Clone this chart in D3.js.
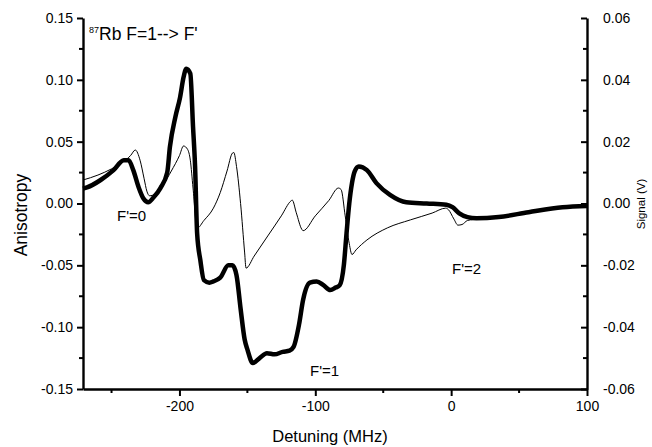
<!DOCTYPE html>
<html>
<head>
<meta charset="utf-8">
<script src="https://cdn.jsdelivr.net/npm/d3@7"></script>
<style>
  body { margin: 0; background: #fff; }
  text { font-family: "Liberation Sans", Arial, sans-serif; fill: #000; }
</style>
</head>
<body>
<div id="chart-area"></div>
<script>
// anisotropy (thick line, left axis): detuning in MHz, value
var anisoDetuning = [-271, -268, -258, -248.5, -241, -237.5, -234, -230, -226.5, -223, -219, -214, -209, -207, -203, -199.5, -197, -195, -192, -190, -188.5, -187, -184.6, -182, -178, -175, -170, -164, -161, -158, -155, -152, -150, -146, -141, -135.6, -130, -124, -119, -116, -112, -109, -104, -99, -94, -89, -85, -82, -79, -77, -75, -73, -71, -68, -62, -55, -45, -33, -18, -3.5, 1, 6, 12, 18.6, 35, 57, 82, 100]
var anisoValues = [0.012, 0.013, 0.019, 0.027, 0.035, 0.035, 0.027, 0.013, 0.004, 0.001, 0.005, 0.0125, 0.025, 0.046, 0.070, 0.086, 0.102, 0.109, 0.105, 0.062, 0.03, -0.024, -0.046, -0.062, -0.064, -0.063, -0.060, -0.050, -0.050, -0.058, -0.085, -0.110, -0.118, -0.129, -0.125, -0.121, -0.122, -0.120, -0.119, -0.116, -0.098, -0.078, -0.064, -0.063, -0.066, -0.070, -0.068, -0.066, -0.05, -0.024, 0.0, 0.0165, 0.026, 0.030, 0.027, 0.0165, 0.007, 0.001, 0.0, -0.001, -0.003, -0.008, -0.011, -0.012, -0.011, -0.007, -0.003, -0.002]

// signal (thin line, right axis)
var signalDetuning = [-271, -260, -250, -243, -236, -232.5, -229, -226, -224, -222, -218, -212, -206, -200, -197, -194, -192, -190, -187, -182, -175, -170, -165, -161, -160, -158, -155, -152, -151, -145, -135, -125, -118, -117, -114, -110, -109, -100, -90, -83, -81, -78, -75, -73, -70, -62, -47, -30, -14, -4, -2, 2, 5, 8, 12, 20, 35, 57, 82, 100]
var signalValues = [0.0076, 0.0092, 0.0112, 0.013, 0.0155, 0.0173, 0.014, 0.008, 0.004, 0.0025, 0.003, 0.006, 0.0105, 0.0155, 0.0186, 0.0175, 0.014, 0.005, -0.008, -0.0055, -0.0015, 0.0035, 0.0105, 0.0163, 0.0165, 0.012, 0.0, -0.016, -0.0209, -0.017, -0.0105, -0.004, 0.0008, 0.0011, -0.003, -0.0083, -0.0088, -0.004, 0.001, 0.005, 0.0045, -0.004, -0.013, -0.0165, -0.015, -0.0118, -0.0079, -0.0053, -0.0031, -0.0015, -0.002, -0.005, -0.007, -0.0068, -0.0055, -0.005, -0.0044, -0.0028, -0.0012, -0.0002]

var xTicks = [-200, -100, 0, 100]
var xMinor = [-250, -150, -50, 50]
var leftTicks = [-0.15, -0.10, -0.05, 0.00, 0.05, 0.10, 0.15]
var leftMinor = [-0.125, -0.075, -0.025, 0.025, 0.075, 0.125]
var rightTicks = [-0.06, -0.04, -0.02, 0.00, 0.02, 0.04, 0.06]
var rightMinor = [-0.05, -0.03, -0.01, 0.01, 0.03, 0.05]

var width = 652, height = 447
var margin = { left: 83, right: 65, top: 18, bottom: 58 }

var svg = d3.select("#chart-area")
  .append("svg")
  .attr("width", width)
  .attr("height", height)

var x = d3.scaleLinear()
  .domain([-271, 100])
  .range([margin.left, width - margin.right])

var yLeft = d3.scaleLinear()
  .domain([-0.15, 0.15])
  .range([height - margin.bottom, margin.top])

var yRight = d3.scaleLinear()
  .domain([-0.06, 0.06])
  .range([height - margin.bottom, margin.top])

var anisoData = anisoDetuning.map(function(d, i) { return [d, anisoValues[i]] })
var signalData = signalDetuning.map(function(d, i) { return [d, signalValues[i]] })

// plain hyphen instead of unicode minus
function fmt(spec) {
  return function(d) { return d3.format(spec)(d).replace("\u2212", "-") }
}

// thin signal line
svg.append("path")
  .datum(signalData)
  .attr("fill", "none")
  .attr("stroke", "#000")
  .attr("stroke-width", 1)
  .attr("d", d3.line()
    .curve(d3.curveMonotoneX)
    .x(function(d) { return x(d[0]) })
    .y(function(d) { return yRight(d[1]) }))

// thick anisotropy line
svg.append("path")
  .datum(anisoData)
  .attr("fill", "none")
  .attr("stroke", "#000")
  .attr("stroke-width", 4.5)
  .attr("stroke-linejoin", "round")
  .attr("d", d3.line()
    .curve(d3.curveMonotoneX)
    .x(function(d) { return x(d[0]) })
    .y(function(d) { return yLeft(d[1]) }))

// axes
function styleAxis(g) {
  g.attr("font-size", 14).attr("font-family", "Liberation Sans, Arial, sans-serif")
  g.select(".domain").attr("stroke", "#000").attr("stroke-width", 2.4)
  g.selectAll(".tick line").attr("stroke", "#000").attr("stroke-width", 2)
}

var xAxis = svg.append("g")
  .attr("transform", "translate(0," + (height - margin.bottom) + ")")
  .call(d3.axisBottom(x).tickValues(xTicks).tickSize(7).tickSizeOuter(0).tickPadding(5).tickFormat(fmt("d")))
  .call(styleAxis)
xAxis.selectAll(".minor")
  .data(xMinor).enter()
  .append("line")
  .attr("x1", function(d) { return x(d) }).attr("x2", function(d) { return x(d) })
  .attr("y1", 0).attr("y2", 4)
  .attr("stroke", "#000").attr("stroke-width", 2)

var leftAxis = svg.append("g")
  .attr("transform", "translate(" + margin.left + ",0)")
  .call(d3.axisLeft(yLeft).tickValues(leftTicks).tickSize(6).tickSizeOuter(0).tickPadding(4).tickFormat(fmt(".2f")))
  .call(styleAxis)
leftAxis.selectAll(".minor")
  .data(leftMinor).enter()
  .append("line")
  .attr("y1", function(d) { return yLeft(d) }).attr("y2", function(d) { return yLeft(d) })
  .attr("x1", 0).attr("x2", -4)
  .attr("stroke", "#000").attr("stroke-width", 2)

var rightAxis = svg.append("g")
  .attr("transform", "translate(" + (width - margin.right) + ",0)")
  .call(d3.axisRight(yRight).tickValues(rightTicks).tickSize(-6).tickSizeOuter(0).tickPadding(16).tickFormat(fmt(".2f")))
  .call(styleAxis)
rightAxis.selectAll(".minor")
  .data(rightMinor).enter()
  .append("line")
  .attr("y1", function(d) { return yRight(d) }).attr("y2", function(d) { return yRight(d) })
  .attr("x1", 0).attr("x2", -4)
  .attr("stroke", "#000").attr("stroke-width", 2)

// axis titles
svg.append("text")
  .attr("x", 330)
  .attr("y", 442)
  .attr("text-anchor", "middle")
  .style("font-size", "16.5px")
  .text("Detuning (MHz)")

svg.append("text")
  .attr("transform", "translate(27,215) rotate(-90)")
  .attr("text-anchor", "middle")
  .style("font-size", "17.5px")
  .text("Anisotropy")

svg.append("text")
  .attr("transform", "translate(645,204) rotate(-90)")
  .attr("text-anchor", "middle")
  .style("font-size", "11.5px")
  .text("Signal (V)")

// annotations
var title = svg.append("text")
  .attr("x", 89)
  .attr("y", 40)
  .style("font-size", "17.5px")
title.append("tspan").attr("dy", -7).style("font-size", "9px").text("87")
title.append("tspan").attr("dy", 7).text("Rb F=1--> F'")

svg.append("text").attr("x", 117).attr("y", 221).style("font-size", "15px").text("F'=0")
svg.append("text").attr("x", 310).attr("y", 376).style("font-size", "15px").text("F'=1")
svg.append("text").attr("x", 452).attr("y", 274).style("font-size", "15px").text("F'=2")
</script>
</body>
</html>
